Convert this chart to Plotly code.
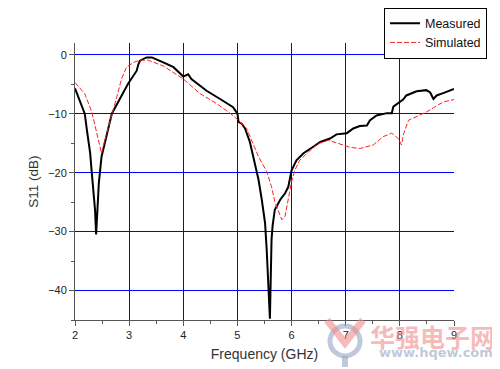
import plotly.graph_objects as go

meas_f = [2.0, 2.18, 2.22, 2.28, 2.31, 2.37, 2.39, 2.41, 2.44, 2.49, 2.58, 2.65, 2.68, 2.98, 3.14, 3.17, 3.2, 3.32, 3.42,
          3.63, 3.82, 4.0, 4.06, 4.09, 4.15, 4.43, 4.68, 4.92, 5.0, 5.02, 5.08, 5.14, 5.23, 5.29, 5.39, 5.45, 5.51,
          5.54, 5.58, 5.6, 5.63, 5.65, 5.69, 5.73, 5.79, 5.88, 5.94, 5.97, 6.0, 6.09, 6.22, 6.4, 6.53, 6.71, 6.83,
          7.02, 7.14, 7.26, 7.39, 7.45, 7.57, 7.76, 7.85, 7.88, 8.0, 8.06, 8.12, 8.31, 8.49, 8.56, 8.62, 8.68, 8.8, 9.0]
meas_db = [-5.7, -10.0, -12.8, -16.7, -20.0, -26.3, -30.5, -26.3, -21.8, -17.3, -13.9, -11.0, -10.0, -4.9, -2.7, -1.6, -1.0, -0.45, -0.45,
           -1.3, -2.1, -3.7, -3.5, -3.3, -4.1, -6.1, -7.5, -8.9, -10.0, -11.4, -11.7, -12.5, -14.8, -17.3, -21.2, -24.6, -28.5,
           -33.0, -40.0, -44.8, -31.4, -29.0, -26.3, -25.7, -24.6, -23.5, -22.4, -21.0, -19.6, -17.9, -16.7, -15.6, -14.8, -14.2, -13.5,
           -13.3, -12.5, -12.1, -12.0, -11.1, -10.3, -9.9, -9.9, -8.8, -8.0, -7.6, -6.9, -6.2, -6.0, -6.4, -7.5, -6.9, -6.5, -5.8]

sim_f = [2.0, 2.18, 2.31, 2.37, 2.43, 2.49, 2.55, 2.62, 2.68, 2.77, 2.86, 2.95, 3.08, 3.2, 3.35, 3.63, 4.0, 4.31, 4.62,
         4.92, 5.17, 5.23, 5.39, 5.54, 5.63, 5.69, 5.79, 5.82, 5.88, 5.94, 6.0, 6.06, 6.15, 6.31, 6.49, 6.68, 6.86,
         7.08, 7.26, 7.51, 7.69, 7.85, 7.97, 8.03, 8.07, 8.16, 8.28, 8.49, 8.62, 8.8, 9.0]
sim_db = [-4.7, -6.6, -9.7, -12.0, -13.9, -16.7, -14.5, -12.3, -10.3, -7.2, -4.1, -2.1, -1.3, -0.9, -0.9, -1.9, -4.1, -6.6, -8.3,
          -10.3, -12.5, -13.9, -17.3, -19.8, -22.4, -24.9, -27.4, -28.0, -27.4, -24.3, -21.5, -19.6, -17.9, -16.5, -15.1, -14.5, -15.1,
          -15.7, -15.9, -15.3, -13.9, -13.3, -14.2, -15.3, -13.4, -11.1, -10.6, -9.7, -9.0, -8.0, -7.6]

x_ticks = [2, 3, 4, 5, 6, 7, 8, 9]
y_ticks = [0, -10, -20, -30, -40]

font = "Liberation Sans, Arial, sans-serif"
grid_blue = "#0000ff"
axis_gray = "#555555"

fig = go.Figure()
fig.add_trace(go.Scatter(x=meas_f, y=meas_db, mode="lines", name="Measured",
                         line=dict(color="black", width=2)))
fig.add_trace(go.Scatter(x=sim_f, y=sim_db, mode="lines", name="Simulated",
                         line=dict(color="#ff2020", width=1, dash="5px,2px")))

# page body has an 8px margin, so the figure is shifted by (8, 8) in the window
fig.update_layout(
    width=492, height=361,
    margin=dict(l=67, r=46, t=35, b=49, autoexpand=False),
    paper_bgcolor="white", plot_bgcolor="white",
    font=dict(family=font, size=11, color="#222"),
    showlegend=True,
    legend=dict(x=1.087, y=1.128, xanchor="right", yanchor="top",
                bordercolor="black", borderwidth=1, bgcolor="white",
                font=dict(size=12.5, color="#111"), tracegroupgap=0,
                itemwidth=30),
    xaxis=dict(range=[2, 9], tickvals=x_ticks, ticks="outside", ticklen=5,
               showline=True, linecolor=axis_gray, linewidth=1,
               showgrid=True, gridcolor=grid_blue, gridwidth=1.2,
               zeroline=False,
               minor=dict(dtick=0.5, ticks="outside", ticklen=3, tickcolor=axis_gray, showgrid=False),
               tickcolor=axis_gray,
               title=dict(text="Frequency (GHz)", font=dict(size=14, color="#333"), standoff=8)),
    yaxis=dict(range=[-45, 2], tickvals=y_ticks, ticks="outside", ticklen=5,
               showline=True, linecolor=axis_gray, linewidth=1,
               showgrid=True, gridcolor=grid_blue, gridwidth=1,
               zeroline=False,
               minor=dict(dtick=5, ticks="outside", ticklen=3, tickcolor=axis_gray, showgrid=False),
               tickcolor=axis_gray,
               title=dict(text="S11 (dB)", font=dict(size=13.5, color="#333"), standoff=6)),
)

def px(wx):
    return (wx - 75) / 379.0

def py(wy):
    return (320 - wy) / 277.0

pink = "rgba(242,140,140,0.6)"
slate = "rgba(150,165,195,0.6)"

# watermark logo
fig.add_shape(type="circle", xref="paper", yref="paper",
              x0=px(330), x1=px(360), y0=py(356), y1=py(326),
              line=dict(color=slate, width=5), layer="above")
fig.add_shape(type="line", xref="paper", yref="paper",
              x0=px(345), x1=px(345), y0=py(356), y1=py(367),
              line=dict(color=slate, width=6), layer="above")
fig.add_shape(type="path", xref="paper", yref="paper",
              path=f"M {px(327)},{py(320)} L {px(345)},{py(343)} L {px(363)},{py(320)}",
              line=dict(color=pink, width=7), layer="above")

fig.add_annotation(x=px(497), y=py(316), xref="paper", yref="paper", xanchor="right", yanchor="top",
                   text="<b>华强电子网</b>", showarrow=False,
                   font=dict(family="Noto Sans CJK SC", size=25, color=pink))
fig.add_annotation(x=px(495), y=py(343), xref="paper", yref="paper", xanchor="right", yanchor="top",
                   text="<b>www.hqew.com</b>", showarrow=False,
                   font=dict(family="Verdana, DejaVu Sans", size=13, color=slate))

fig.write_html("out.html")
